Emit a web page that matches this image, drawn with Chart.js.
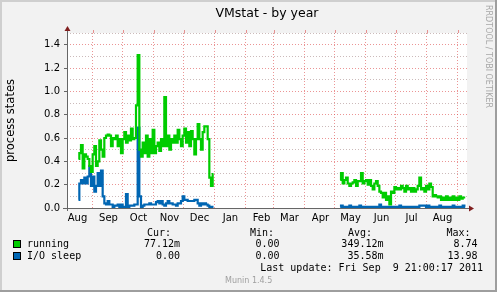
<!DOCTYPE html>
<html><head><meta charset="utf-8">
<script src="https://cdn.jsdelivr.net/npm/chart.js@4/dist/chart.umd.min.js"></script>
<style>html,body{margin:0;padding:0;background:#f2f2f2;}canvas{display:block;}</style>
</head><body>
<canvas id="c" width="497" height="292"></canvas>
<script>
// ---- data (x axis in days since 2010-08-01) ----
const monthNames = ['Aug','Sep','Oct','Nov','Dec','Jan','Feb','Mar','Apr','May','Jun','Jul','Aug'];
const monthStartDays = [0,31,61,92,122,153,184,212,243,273,304,334,365,396];
const yTickValues = [0,0.1,0.2,0.3,0.4,0.5,0.6,0.7,0.8,0.9,1.0,1.1,1.2,1.3,1.4,1.5];
const seriesLabels = ['running','I/O sleep'];
const segment1Start = 17.0, segment2Start = 278.7, sampleStep = 5/3;

const running1 = [0.42,0.47,0.54,0.34,0.46,0.44,0.42,0.36,0.31,0.46,0.53,0.36,0.40,0.58,0.50,0.44,0.60,0.62,0.63,0.62,0.53,0.60,0.59,0.62,0.53,0.59,0.47,0.59,0.65,0.56,0.62,0.58,0.68,0.59,0.60,0.88,1.31,0.50,0.44,0.56,0.47,0.62,0.44,0.59,0.47,0.67,0.47,0.53,0.56,0.49,0.59,0.53,0.95,0.53,0.62,0.50,0.59,0.56,0.62,0.56,0.67,0.59,0.53,0.62,0.68,0.56,0.65,0.53,0.66,0.59,0.46,0.59,0.72,0.59,0.50,0.65,0.70,0.70,0.59,0.26,0.19,0.29];
const running2 = [0.24,0.30,0.21,0.24,0.26,0.21,0.19,0.21,0.22,0.24,0.19,0.23,0.23,0.30,0.21,0.23,0.24,0.20,0.24,0.19,0.16,0.21,0.23,0.19,0.14,0.13,0.09,0.13,0.07,0.10,0.03,0.14,0.13,0.18,0.16,0.17,0.16,0.19,0.17,0.14,0.19,0.16,0.17,0.14,0.17,0.14,0.16,0.19,0.26,0.16,0.17,0.14,0.19,0.16,0.21,0.18,0.10,0.11,0.10,0.09,0.10,0.07,0.09,0.07,0.10,0.07,0.09,0.07,0.10,0.07,0.09,0.07,0.10,0.08,0.09,0.09];
const ioSleep1 = [0.07,0.21,0.24,0.21,0.26,0.21,0.27,0.36,0.19,0.27,0.14,0.19,0.30,0.19,0.32,0.10,0.04,0.03,0.06,0.03,0.03,0.01,0.02,0.02,0.03,0.01,0.03,0.01,0.01,0.12,0.01,0.02,0.02,0.02,0.03,0.03,0.69,0.10,0.01,0.02,0.03,0.03,0.03,0.04,0.03,0.03,0.03,0.05,0.06,0.04,0.06,0.03,0.02,0.04,0.06,0.04,0.04,0.03,0.03,0.02,0.04,0.04,0.06,0.10,0.07,0.07,0.06,0.06,0.06,0.06,0.07,0.07,0.04,0.02,0.04,0.03,0.04,0.03,0.02,0.01,0.01,0.01];
const ioSleep2 = [0.01,0.02,0.01,0.01,0.01,0.01,0.02,0.01,0.01,0.01,0.01,0.01,0.02,0.01,0.01,0.01,0.01,0.01,0.01,0.01,0.01,0.01,0.01,0.01,0.03,0.01,0.01,0.01,0.01,0.01,0.01,0.01,0.01,0.01,0.01,0.01,0.02,0.01,0.01,0.01,0.01,0.01,0.01,0.01,0.01,0.01,0.01,0.01,0.02,0.02,0.02,0.02,0.01,0.02,0.01,0.01,0.01,0.01,0.01,0.01,0.02,0.01,0.01,0.01,0.01,0.01,0.01,0.01,0.02,0.01,0.01,0.01,0.01,0.01,0.02,0.01];

const statHeaders = ['Cur:','Min:','Avg:','Max:'];
const runningStats = ['77.12m','0.00','349.12m','8.74'];
const ioSleepStats = ['0.00','0.00','35.58m','13.98'];
const lastUpdate = 'Last update: Fri Sep  9 21:00:17 2011';

// ---- build points ----
function seg(vals, start){ return vals.map((v,i)=>({x:start+i*sampleStep, y:v})); }
const runPts = seg(running1, segment1Start).concat([{x:215,y:null}], seg(running2, segment2Start));
const ioPts = seg(ioSleep1, segment1Start).concat([{x:215,y:null}], seg(ioSleep2, segment2Start));

const GREEN = '#00cc00', BLUE = '#0066b3';
const MAJOR = 'rgba(222,79,79,0.6)', MINOR = 'rgba(160,130,130,0.55)';
const AXIS = '#666666', ARROW = '#801f1f';
const isMajor = v => Math.round(v*10) % 2 === 0;

const framePlugin = {
  id:'frame',
  beforeDraw(chart){
    const c = chart.ctx, a = chart.chartArea, W = chart.width, H = chart.height;
    c.save();
    c.fillStyle = '#f2f2f2'; c.fillRect(0,0,W,H);
    c.fillStyle = '#cfcfcf'; c.fillRect(0,0,W,2); c.fillRect(0,0,2,H);
    c.fillStyle = '#9e9e9e'; c.fillRect(0,H-2,W,2); c.fillRect(W-2,0,2,H);
    c.fillStyle = '#ffffff'; c.fillRect(a.left,a.top,a.right-a.left,a.bottom-a.top);
    c.restore();
  },
  afterDraw(chart){
    const c = chart.ctx, a = chart.chartArea, xs = chart.scales.x;
    c.save();
    c.strokeStyle = MAJOR; c.lineWidth = 1;
    xs.ticks.forEach(t=>{ const px = Math.round(xs.getPixelForValue(t.value))+0.5; c.beginPath(); c.moveTo(px,30); c.lineTo(px,a.top); c.stroke(); });
    c.strokeStyle = AXIS; c.lineWidth = 1;
    c.beginPath(); c.moveTo(a.left-4, a.bottom+0.5); c.lineTo(a.right+2, a.bottom+0.5); c.stroke();
    c.beginPath(); c.moveTo(a.left+0.5, a.top-3); c.lineTo(a.left+0.5, a.bottom+3); c.stroke();
    c.fillStyle = ARROW;
    c.beginPath(); c.moveTo(a.left+0.5, a.top-7); c.lineTo(a.left-2.5, a.top-2); c.lineTo(a.left+3.5, a.top-2); c.closePath(); c.fill();
    c.beginPath(); c.moveTo(a.right+7, a.bottom+0.5); c.lineTo(a.right+2, a.bottom-2.5); c.lineTo(a.right+2, a.bottom+3.5); c.closePath(); c.fill();
    c.fillStyle = '#000';
    c.font = '12.5px "DejaVu Sans"'; c.textAlign = 'center'; c.textBaseline = 'alphabetic';
    c.fillText('VMstat - by year', (a.left+a.right)/2, 17);
    c.save(); c.translate(11.5, (a.top+a.bottom)/2); c.rotate(-Math.PI/2);
    c.font = '11.5px "DejaVu Sans"'; c.textBaseline = 'middle'; c.fillText('process states', 0, 0); c.restore();
    c.save(); c.translate(488, 5); c.rotate(Math.PI/2);
    c.font = '8px "DejaVu Sans"'; c.fillStyle = '#a8a8a8'; c.textAlign = 'left'; c.textBaseline = 'middle';
    c.fillText('RRDTOOL / TOBI OETIKER', 0, 0); c.restore();
    c.font = '10px "DejaVu Sans Mono"'; c.fillStyle = '#000'; c.textBaseline = 'middle';
    const hdrX = [147, 250, 348, 446.5];
    const valR = [180, 279.5, 383.5, 477.5];
    c.textAlign = 'left';
    statHeaders.forEach((h,i)=>c.fillText(h, hdrX[i], 233));
    const rows = [[GREEN, seriesLabels[0], runningStats, 244.5],[BLUE, seriesLabels[1], ioSleepStats, 256.5]];
    rows.forEach(([col, lab, stats, y])=>{
      c.fillStyle = col; c.fillRect(13.5, y-4, 7, 7);
      c.strokeStyle = '#000'; c.lineWidth = 1; c.strokeRect(13.5, y-4, 7, 7);
      c.fillStyle = '#000'; c.textAlign = 'left'; c.fillText(lab, 27, y);
      c.textAlign = 'right'; stats.forEach((s,i)=>c.fillText(s, valR[i], y));
    });
    c.textAlign = 'right'; c.fillText(lastUpdate, 483, 268.5);
    c.font = '8px "DejaVu Sans"'; c.fillStyle = '#a0a0a0'; c.textAlign = 'left';
    c.fillText('Munin 1.4.5', 225, 281);
    c.restore();
  }
};

new Chart(document.getElementById('c'), {
  type:'line',
  data:{datasets:[
    {label:seriesLabels[0], data:runPts, borderColor:GREEN, borderWidth:2.2, pointRadius:0, fill:false, spanGaps:false, stepped:'middle'},
    {label:seriesLabels[1], data:ioPts, borderColor:BLUE, borderWidth:2.2, pointRadius:0, fill:false, spanGaps:false, stepped:'middle'}
  ]},
  options:{
    responsive:false, animation:false, devicePixelRatio:1,
    layout:{padding:{left:0, top:33, right:30, bottom:64}},
    plugins:{legend:{display:false}, title:{display:false}, tooltip:{enabled:false}},
    scales:{
      x:{type:'linear', min:5.5, max:405.5, position:'bottom',
        afterBuildTicks:s=>{ s.ticks = monthStartDays.filter(d=>d>5.5 && d<405.5).map(v=>({value:v})); },
        ticks:{display:false},
        grid:{color:MAJOR, lineWidth:1, drawTicks:false},
        border:{display:false, dash:[1,2]},
        afterFit:s=>{ s.height = 0; }
      },
      xLabels:{type:'linear', min:5.5, max:405.5, position:'bottom',
        afterBuildTicks:s=>{ s.ticks = monthStartDays.slice(0,13).map(d=>({value:d+16})); },
        ticks:{autoSkip:false, maxRotation:0, padding:4, color:'#000', font:{family:'DejaVu Sans', size:10},
          callback:(v,i)=>monthNames[i]},
        grid:{display:false, drawTicks:false}, border:{display:false},
        afterFit:s=>{ s.height = 20; }
      },
      y:{type:'linear', min:0, max:1.5,
        afterBuildTicks:s=>{ s.ticks = yTickValues.map(v=>({value:v})); },
        ticks:{autoSkip:false, padding:4, color:'#000', font:{family:'DejaVu Sans', size:10},
          callback:v=> isMajor(v) ? v.toFixed(1) : ''},
        grid:{lineWidth:1, tickLength:3,
          color:ctx=> ctx.tick && ctx.tick.value === 0 ? 'rgba(0,0,0,0)' : (isMajor(ctx.tick.value) ? MAJOR : MINOR),
          tickColor:ctx=> isMajor(ctx.tick.value) ? AXIS : 'rgba(0,0,0,0)'},
        border:{display:false, dash:[1,2]},
        afterFit:s=>{ s.width = 67; }
      }
    }
  },
  plugins:[framePlugin]
});
</script>
</body></html>
